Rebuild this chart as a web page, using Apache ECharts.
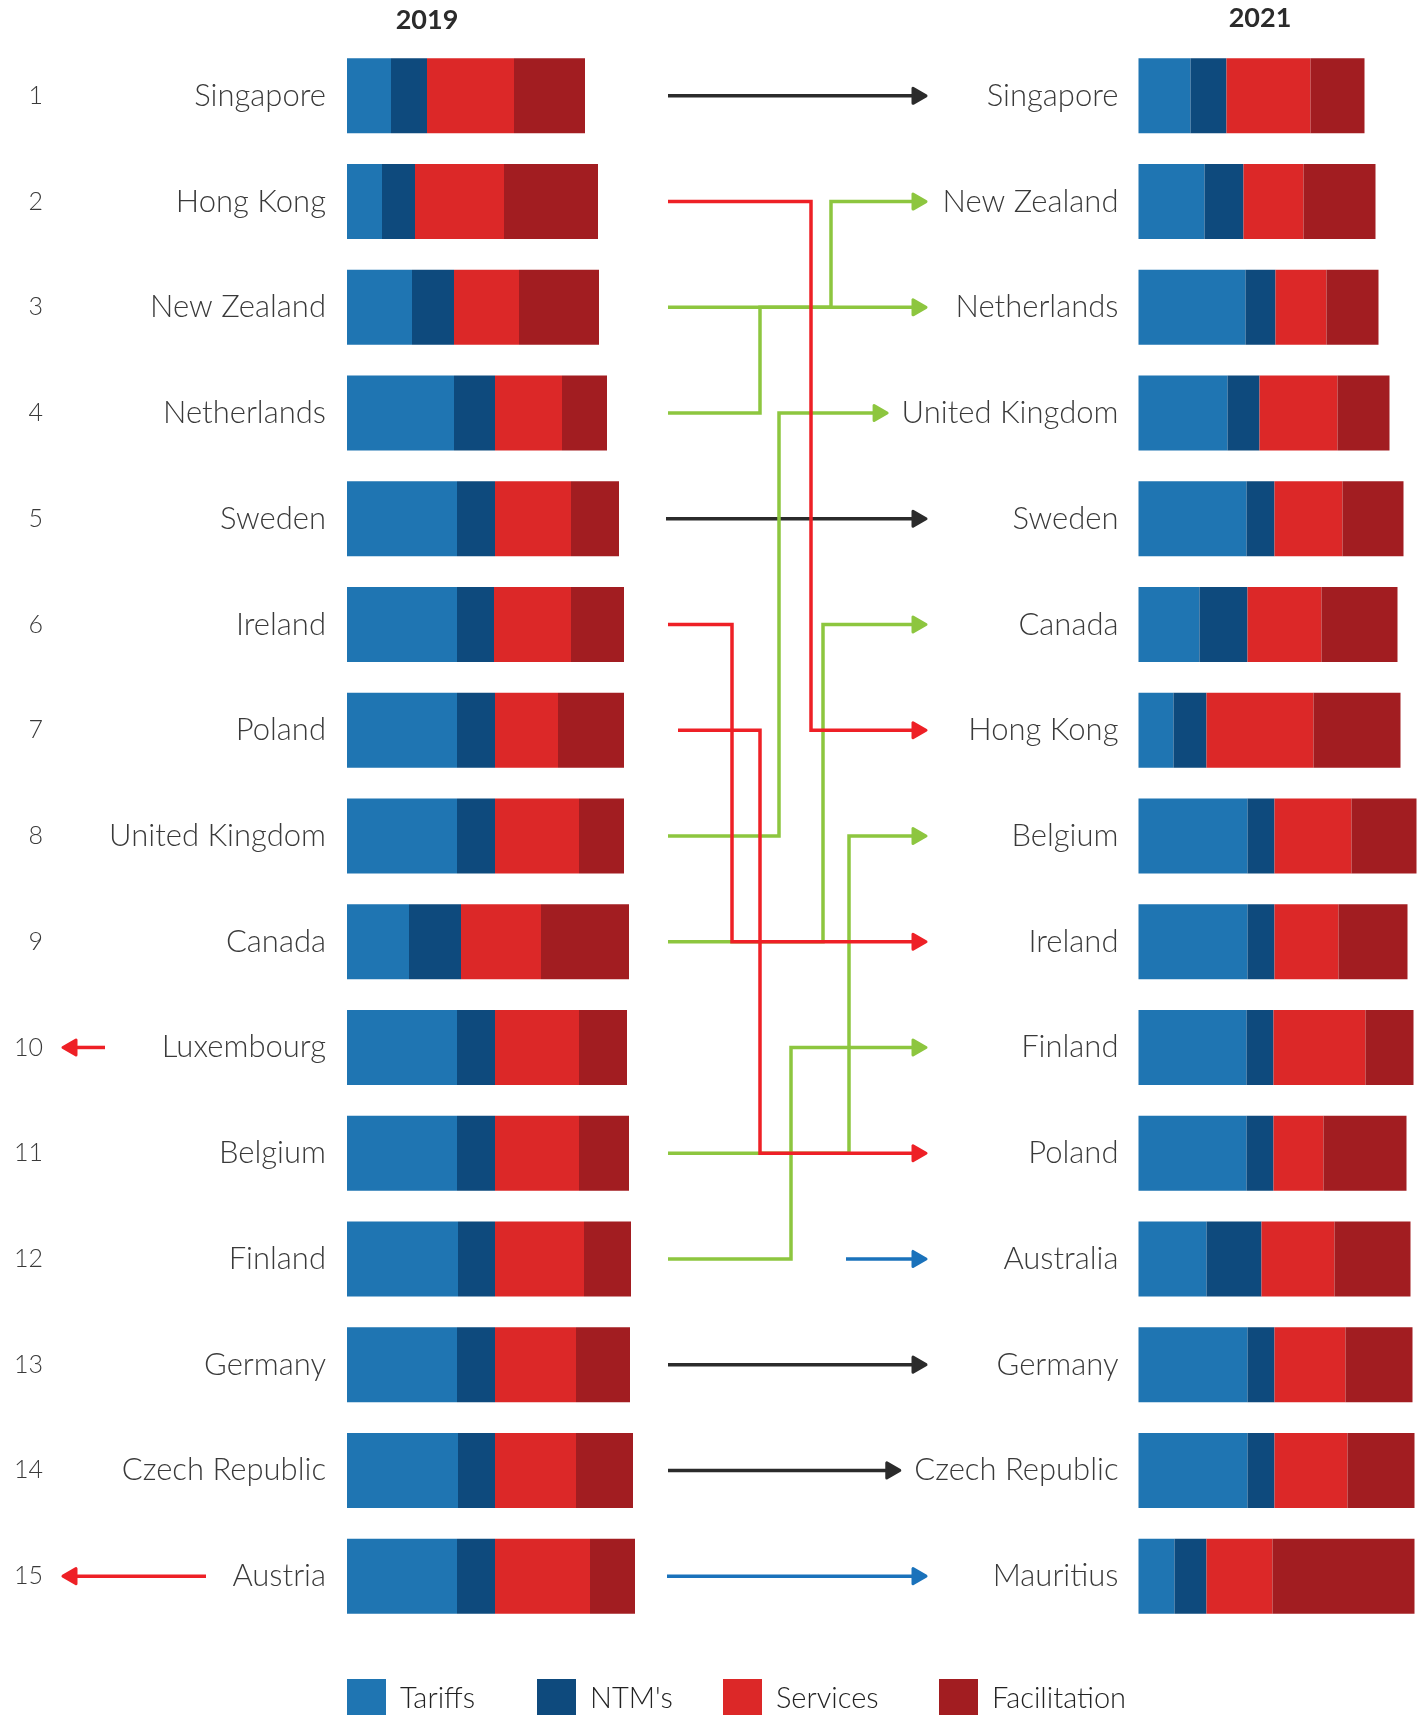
<!DOCTYPE html>
<html>
<head>
<meta charset="utf-8">
<script src="https://cdn.jsdelivr.net/npm/echarts@6/dist/echarts.min.js"></script>
<style>
  html, body { margin: 0; padding: 0; background: #ffffff; }
  #chart { width: 1424px; height: 1715px; }
</style>
</head>
<body>
<div id="chart"></div>
<script>
// ---------------- DATA ----------------
const seriesNames = ['Tariffs', "NTM's", 'Services', 'Facilitation'];

const countries2019 = ['Singapore', 'Hong Kong', 'New Zealand', 'Netherlands', 'Sweden', 'Ireland', 'Poland',
  'United Kingdom', 'Canada', 'Luxembourg', 'Belgium', 'Finland', 'Germany', 'Czech Republic', 'Austria'];
const tariffs2019      = [44, 35, 65, 107, 110, 110, 110, 110, 62, 110, 110, 111, 110, 111, 110];
const ntm2019          = [36, 33, 42, 41, 38, 37, 38, 38, 52, 38, 38, 37, 38, 37, 38];
const services2019     = [87, 89, 65, 67, 76, 77, 63, 84, 80, 84, 84, 89, 81, 81, 95];
const facilitation2019 = [71, 94, 80, 45, 48, 53, 66, 45, 88, 48, 50, 47, 54, 57, 45];

const countries2021 = ['Singapore', 'New Zealand', 'Netherlands', 'United Kingdom', 'Sweden', 'Canada', 'Hong Kong',
  'Belgium', 'Ireland', 'Finland', 'Poland', 'Australia', 'Germany', 'Czech Republic', 'Mauritius'];
const tariffs2021      = [52, 66, 107, 89, 108, 61, 35, 109, 109, 108, 108, 68, 109, 109, 36];
const ntm2021          = [36, 39, 30, 32, 28, 48, 33, 27, 27, 27, 27, 55, 27, 27, 32];
const services2021     = [84, 60, 51, 78, 68, 74, 107, 77, 64, 92, 50, 73, 71, 73, 66];
const facilitation2021 = [54, 72, 52, 52, 61, 76, 87, 65, 69, 48, 83, 76, 67, 67, 142];

const rankLabels = ['1','2','3','4','5','6','7','8','9','10','11','12','13','14','15'];
const yearLabels = ['2019', '2021'];

// ---------------- STYLE / LAYOUT ----------------
const barColors = ['#1f75b2', '#0e4a7d', '#dc2828', '#a21d21'];
const COL_SAME = '#2b2b2b', COL_UP = '#8dc63f', COL_DOWN = '#ee2026', COL_NEW = '#1a72bb';
const FONT = 'Lato';
const labelSize = 31;
const gridTop = 43, gridHeight = 1586;
const leftX = 347, rightX = 1138.5;
const leftW = 300, rightW = 280;   // 1 value unit per pixel on both sides
const lay = {
  startX: 668, tipX: 926, dropTipX: 63, labelRight: 1118, labelGap: 14,
  headLen: 13, headHalf: 7.5, lineW: 3.5,
  startOverride: { 'Poland': 678, 'Sweden': 666 },
  elbowX: { 'Hong Kong': 811, 'New Zealand': 831, 'Netherlands': 760, 'Ireland': 732, 'Poland': 760,
            'United Kingdom': 779, 'Canada': 823, 'Belgium': 849, 'Finland': 791 },
  dropStart: { 'Luxembourg': 105, 'Austria': 206 },
  newStart: { 'Australia': 846, 'Mauritius': 667 }
};

// measure right-hand label widths so arrows stop before long labels
const mctx = document.createElement('canvas').getContext('2d');
mctx.font = '300 ' + labelSize + 'px ' + FONT;
function tipFor(name) {
  const left = lay.labelRight - mctx.measureText(name).width;
  return Math.min(lay.tipX, left - lay.labelGap);
}

// ---------------- CONNECTORS (built from the rank lists) ----------------
// points are [x-position, rank]; ranks are mapped through the hidden value axis
const connectors = [];
countries2019.forEach((c, i) => {
  const r0 = i + 1;
  const j = countries2021.indexOf(c);
  if (j < 0) {
    connectors.push({ color: COL_DOWN, order: 3, pts: [[lay.dropStart[c] || 105, r0], [lay.dropTipX, r0]] });
    return;
  }
  const r1 = j + 1;
  const sx = lay.startOverride[c] || lay.startX;
  const tip = tipFor(c);
  if (r1 === r0) {
    connectors.push({ color: COL_SAME, order: 0, pts: [[sx, r0], [tip, r0]] });
  } else {
    const ex = lay.elbowX[c];
    connectors.push({ color: r1 < r0 ? COL_UP : COL_DOWN, order: r1 < r0 ? 2 : 3,
      pts: [[sx, r0], [ex, r0], [ex, r1], [tip, r1]] });
  }
});
countries2021.forEach((c, j) => {
  if (countries2019.indexOf(c) < 0) {
    connectors.push({ color: COL_NEW, order: 1, pts: [[lay.newStart[c] || lay.startX, j + 1], [tipFor(c), j + 1]] });
  }
});
connectors.sort((a, b) => a.order - b.order);

function renderConnector(params, api) {
  const con = connectors[params.dataIndex];
  const px = con.pts.map(p => api.coord(p));
  const n = px.length;
  const tip = px[n - 1];
  const prev = px[n - 2];
  const dir = tip[0] >= prev[0] ? 1 : -1;
  const baseX = tip[0] - dir * lay.headLen;
  const linePts = px.slice(0, n - 1).concat([[baseX, tip[1]]]);
  return {
    type: 'group',
    children: [
      { type: 'polyline', shape: { points: linePts },
        style: { stroke: con.color, lineWidth: lay.lineW, fill: null, lineJoin: 'miter', lineCap: 'butt' } },
      { type: 'polygon',
        shape: { points: [[tip[0], tip[1]], [baseX, tip[1] - lay.headHalf], [baseX, tip[1] + lay.headHalf]] },
        style: { fill: con.color, stroke: con.color, lineWidth: 3, lineJoin: 'round' } }
    ]
  };
}

const vals2019 = [tariffs2019, ntm2019, services2019, facilitation2019];
const vals2021 = [tariffs2021, ntm2021, services2021, facilitation2021];

const barSeries = [];
seriesNames.forEach((n, k) => {
  barSeries.push({ name: n, type: 'bar', stack: 'y2019', xAxisIndex: 0, yAxisIndex: 0,
    data: vals2019[k], barWidth: 75, itemStyle: { color: barColors[k] }, silent: true });
});
seriesNames.forEach((n, k) => {
  barSeries.push({ name: n, type: 'bar', stack: 'y2021', xAxisIndex: 1, yAxisIndex: 2,
    data: vals2021[k], barWidth: 75, itemStyle: { color: barColors[k] }, silent: true });
});

const legendLeft = [347, 537, 723, 939];
const legends = seriesNames.map((n, k) => ({
  data: [n], left: legendLeft[k], top: 1679, orient: 'horizontal', padding: 0,
  icon: 'rect', itemWidth: 39, itemHeight: 39, selectedMode: false,
  textStyle: { fontFamily: FONT, fontWeight: 300, fontSize: 29, color: '#222', padding: [0, 0, 0, 9] }
}));

const catLabel = {
  fontFamily: FONT, fontWeight: 300, fontSize: labelSize, color: '#3a3a3a', align: 'right'
};

const option = {
  backgroundColor: '#ffffff',
  animation: false,
  legend: legends,
  graphic: [
    { type: 'text', x: 427, y: 20, style: { text: yearLabels[0], align: 'center', verticalAlign: 'middle',
      font: 'bold 27px ' + FONT, fill: '#2b2b2b' } },
    { type: 'text', x: 1260, y: 18, style: { text: yearLabels[1], align: 'center', verticalAlign: 'middle',
      font: 'bold 27px ' + FONT, fill: '#2b2b2b' } }
  ],
  grid: [
    { left: leftX, top: gridTop, width: leftW, height: gridHeight },
    { left: rightX, top: gridTop, width: rightW, height: gridHeight },
    { left: 0, top: gridTop, width: 1424, height: gridHeight }
  ],
  xAxis: [
    { type: 'value', gridIndex: 0, min: 0, max: leftW, show: false },
    { type: 'value', gridIndex: 1, min: 0, max: rightW, show: false },
    { type: 'value', gridIndex: 2, min: 0, max: 1424, show: false }
  ],
  yAxis: [
    { type: 'category', gridIndex: 0, data: countries2019, inverse: true,
      axisLine: { show: false }, axisTick: { show: false }, splitLine: { show: false },
      axisLabel: Object.assign({ margin: 21 }, catLabel) },
    { type: 'category', gridIndex: 0, data: rankLabels, inverse: true, position: 'left',
      axisLine: { show: false }, axisTick: { show: false }, splitLine: { show: false },
      axisLabel: { margin: 304, align: 'right', fontFamily: FONT, fontWeight: 300, fontSize: 25, color: '#3a3a3a' } },
    { type: 'category', gridIndex: 1, data: countries2021, inverse: true,
      axisLine: { show: false }, axisTick: { show: false }, splitLine: { show: false },
      axisLabel: Object.assign({ margin: 20 }, catLabel) },
    { type: 'value', gridIndex: 2, min: 0.5, max: 15.5, inverse: true, show: false }
  ],
  series: barSeries.concat([{
    type: 'custom', coordinateSystem: 'cartesian2d', xAxisIndex: 2, yAxisIndex: 3,
    silent: true, clip: false, z: 5,
    data: connectors.map(c => c.pts[0]),
    renderItem: renderConnector
  }])
};

const chart = echarts.init(document.getElementById('chart'), null, { renderer: 'canvas' });
chart.setOption(option);
</script>
</body>
</html>
